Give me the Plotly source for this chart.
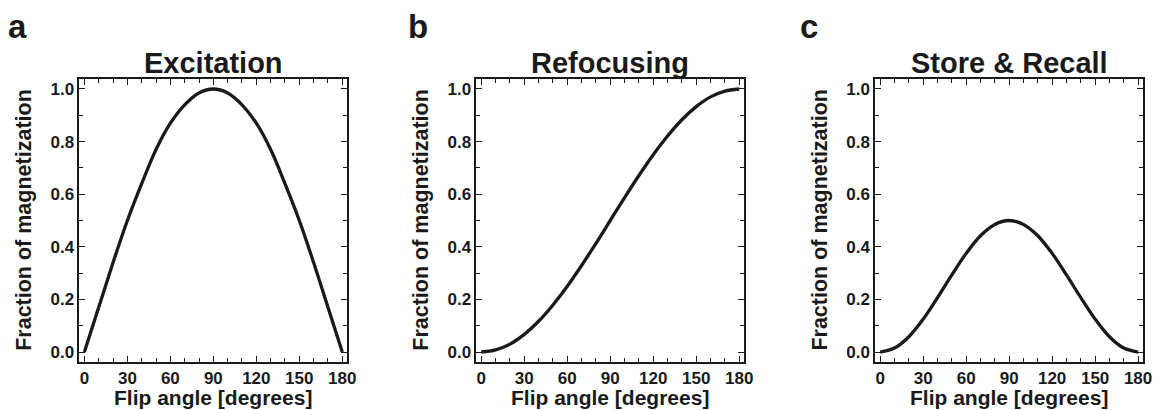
import plotly.graph_objects as go

W, H = 1166, 410

flip_angle = [0, 10, 20, 30, 40, 50, 60, 70, 80, 90, 100, 110, 120, 130, 140, 150, 160, 170, 180]
excitation = [0.0, 0.17, 0.34, 0.50, 0.64, 0.77, 0.87, 0.94, 0.985, 1.0, 0.985, 0.94, 0.87, 0.77, 0.64, 0.50, 0.34, 0.17, 0.0]
refocusing = [0.0, 0.008, 0.03, 0.067, 0.117, 0.179, 0.25, 0.329, 0.413, 0.5, 0.587, 0.671, 0.75, 0.821, 0.883, 0.933, 0.97, 0.992, 1.0]
store_recall = [0.0, 0.015, 0.058, 0.125, 0.207, 0.293, 0.375, 0.442, 0.485, 0.5, 0.485, 0.442, 0.375, 0.293, 0.207, 0.125, 0.058, 0.015, 0.0]

panel_titles = ["Excitation", "Refocusing", "Store & Recall"]
panel_letters = ["a", "b", "c"]
series = [excitation, refocusing, store_recall]
x_ticks = [0, 30, 60, 90, 120, 150, 180]
y_ticks = [0.0, 0.2, 0.4, 0.6, 0.8, 1.0]
y_tick_labels = ["0.0", "0.2", "0.4", "0.6", "0.8", "1.0"]
x_title = "Flip angle [degrees]"
y_title = "Fraction of magnetization"

FONT = "Liberation Sans, Arial, sans-serif"
INK = "#1a1a1a"

x_px = [(80, 350), (480, 750), (882, 1152)]
letter_x = [6, 409, 804]
y_top, y_bot = 79, 362
ydom = [1 - y_bot / H, 1 - y_top / H]

def py(v):
    return 1 - v / H

fig = go.Figure()
for i in range(3):
    sfx = "" if i == 0 else str(i + 1)
    fig.add_trace(go.Scatter(
        x=flip_angle, y=series[i], mode="lines",
        line=dict(color=INK, width=3.3, shape="spline", smoothing=1.0),
        xaxis="x" + sfx, yaxis="y" + sfx, showlegend=False, hoverinfo="skip"))
    xd = [x_px[i][0] / W, x_px[i][1] / W]
    axcommon = dict(showline=True, linecolor=INK, linewidth=1.6, mirror="ticks",
                    ticks="inside", tickcolor=INK, tickwidth=1.4, ticklen=6,
                    showgrid=False, zeroline=False,
                    tickfont=dict(family=FONT, size=17, color=INK, weight="bold"))
    fig.layout["xaxis" + sfx] = dict(
        domain=xd, anchor="y" + sfx, range=[-3.5, 183.5],
        tickmode="array", tickvals=x_ticks, ticktext=[str(v) for v in x_ticks],
        minor=dict(dtick=10, tick0=0, ticks="inside", ticklen=4, tickcolor=INK, tickwidth=1.2),
        **axcommon)
    fig.layout["yaxis" + sfx] = dict(
        domain=ydom, anchor="x" + sfx, range=[-0.038, 1.038],
        tickmode="array", tickvals=y_ticks, ticktext=y_tick_labels,
        minor=dict(dtick=0.1, tick0=0, ticks="inside", ticklen=4, tickcolor=INK, tickwidth=1.2),
        **axcommon)
    cx = (x_px[i][0] + x_px[i][1]) / 2 / W
    fig.add_annotation(text="<b>" + panel_titles[i] + "</b>", x=cx, y=py(63),
                       xref="paper", yref="paper", showarrow=False,
                       font=dict(family=FONT, size=29, color=INK), xanchor="center", yanchor="middle")
    fig.add_annotation(text="<b>" + panel_letters[i] + "</b>", x=letter_x[i] / W, y=py(26),
                       xref="paper", yref="paper", showarrow=False,
                       font=dict(family=FONT, size=33, color=INK), xanchor="left", yanchor="middle")
    fig.add_annotation(text="<b>" + x_title + "</b>", x=cx, y=py(397),
                       xref="paper", yref="paper", showarrow=False,
                       font=dict(family=FONT, size=21, color=INK), xanchor="center", yanchor="middle")
    fig.add_annotation(text="<b>" + y_title + "</b>", x=(x_px[i][0] - 56) / W, y=py(220),
                       xref="paper", yref="paper", showarrow=False, textangle=-90,
                       font=dict(family=FONT, size=21.5, color=INK), xanchor="center", yanchor="middle")

fig.update_layout(width=W, height=H, margin=dict(l=0, r=0, t=0, b=0),
                  plot_bgcolor="white", paper_bgcolor="white")
fig.write_html("out.html", config={"displayModeBar": False},
               post_script="document.body.style.margin='0';document.body.style.overflow='hidden';")
